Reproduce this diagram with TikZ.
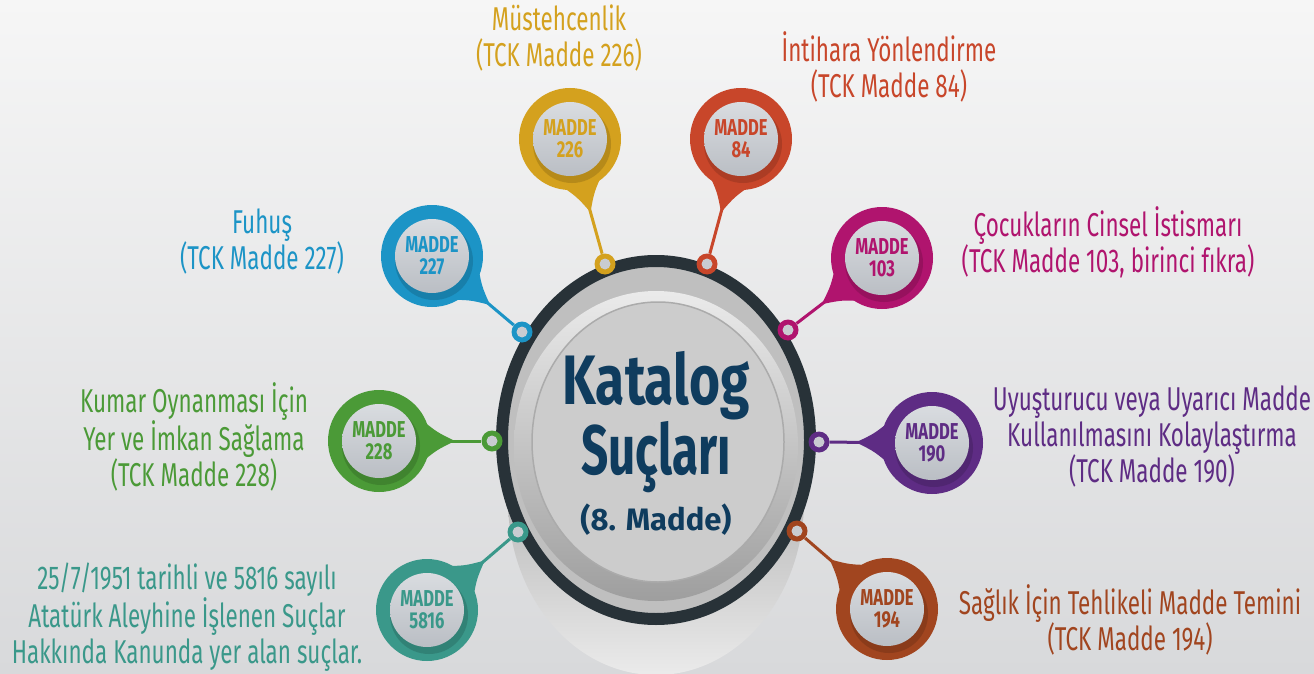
\documentclass[tikz,border=0pt]{standalone}
\usepackage{fontspec}
\usetikzlibrary{calc,shapes.geometric}
\newfontfamily\lab[FakeStretch=0.68]{Fira Sans}
\newfontfamily\labb[FakeStretch=0.72]{Fira Sans}
\newfontfamily\labk[FakeStretch=0.76]{Fira Sans}
\newfontfamily\labs[FakeStretch=0.68]{Fira Sans}
\newfontfamily\plainb{Fira Sans}
\definecolor{cgold}{HTML}{D4A11E}
\definecolor{cred}{HTML}{C8462A}
\definecolor{cblue}{HTML}{1C94C6}
\definecolor{cmag}{HTML}{B0146E}
\definecolor{cgreen}{HTML}{4B9A37}
\definecolor{cpurple}{HTML}{5E2C84}
\definecolor{cteal}{HTML}{3A988A}
\definecolor{cbrown}{HTML}{A1451F}
\definecolor{navy}{HTML}{0F3C5E}
\definecolor{ringdark}{HTML}{283238}
\definecolor{innertop}{HTML}{D9DCE0}
\definecolor{innerbot}{HTML}{BABEC4}
\definecolor{dotcenter}{HTML}{C9CCD1}
\definecolor{bgtop}{HTML}{F6F6F6}
\definecolor{bgbot}{HTML}{D8D9DB}
\tikzset{
  pinouter/.style={circle, minimum size=102pt, inner sep=0pt},
  pininner/.style={circle, minimum size=74pt, inner sep=0pt, top color=innertop, bottom color=innerbot, align=center, font=\labb\bfseries\fontsize{23}{22}\selectfont},
  dotnode/.style={circle, minimum size=21pt, inner sep=0pt},
  conn/.style={line width=3pt},
  lbl/.style={align=center, inner sep=0pt, font=\lab\fontsize{33}{36}\selectfont},
  bigtxt/.style={inner sep=0pt, text=navy},
}
\newcommand\mkpin[5]{%
  \coordinate (#1c) at #2;
  \coordinate (#1d) at #3;
  \fill[#4] ($(#1c)!46pt!32:(#1d)$) .. controls ($(#1c)!58pt!9:(#1d)$) .. ($(#1c)!76pt!(#1d)$) .. controls ($(#1c)!58pt!-9:(#1d)$) .. ($(#1c)!46pt!-32:(#1d)$) -- cycle;
  \node[pinouter, fill=#4] (#1) at (#1c) {};
  \fill[#4!60!black, opacity=.35] ($(#1c)+(2,-5)$) circle (39);
  \node[pininner, text=#4] (#1in) at (#1c) {MADDE\\#5};
  \node[dotnode, fill=#4] (#1dot) at (#1d) {};
  \fill[dotcenter] (#1dot) circle (5.5);
  \draw[conn, #4] (#1) -- (#1dot);
}
\begin{document}
\begin{tikzpicture}[x=1pt,y=1pt]
\useasboundingbox (0,0) rectangle (1314,-674);
\shade[top color=bgtop, bottom color=bgbot] (0,0) rectangle (1314,-674);
% central body
\shade[top color=black!45, bottom color=black!8] (656,-500) ellipse (148 and 175);
\fill[black!25] (656,-440) ellipse (154 and 179);
\node[draw=ringdark, line width=12pt, ellipse, minimum width=308pt, minimum height=358pt, inner sep=0pt] (ring) at (656,-440) {};
\shade[top color=black!8, bottom color=black!38] (656,-446) ellipse (142 and 155);
\node[ellipse, draw=black!33, line width=1.5pt, fill=black!20, minimum width=252pt, minimum height=280pt, inner sep=0pt] (face) at (658,-442) {};
\node[bigtxt, align=center, font=\bfseries\fontsize{70}{59}\selectfont] (t1) at (656,-422) {{\labk\bfseries Katalog}\\{\labs\bfseries Suçları}};
\node[bigtxt, anchor=base, font=\plainb\bfseries\fontsize{31}{31}\selectfont] (t3) at (656,-530) {(8. Madde)};
% pins
\mkpin{pa}{(570,-139)}{(605,-264)}{cgold}{226}
\mkpin{pb}{(741,-139)}{(707,-264)}{cred}{84}
\mkpin{pc}{(432,-256)}{(522,-332)}{cblue}{227}
\mkpin{pd}{(882,-258)}{(788,-330)}{cmag}{103}
\mkpin{pe}{(379,-441)}{(492,-441)}{cgreen}{228}
\mkpin{pf}{(932,-443)}{(819,-442)}{cpurple}{190}
\mkpin{pg}{(427,-610)}{(518,-532)}{cteal}{5816}
\mkpin{ph}{(887,-609)}{(797,-531)}{cbrown}{194}
% labels
\node[lbl, text=cgold] (la) at (559,-38) {Müstehcenlik\\(TCK Madde 226)};
\node[lbl, text=cred] (lb) at (889,-67) {İntihara Yönlendirme\\(TCK Madde 84)};
\node[lbl, text=cblue] (lc) at (262,-242) {Fuhuş\\(TCK Madde 227)};
\node[lbl, text=cmag] (ld) at (1108,-242) {Çocukların Cinsel İstismarı\\(TCK Madde 103, birinci fıkra)};
\node[lbl, text=cgreen] (le) at (194,-437) {Kumar Oynanması İçin\\Yer ve İmkan Sağlama\\(TCK Madde 228)};
\node[lbl, text=cpurple] (lf) at (1152,-437) {Uyuşturucu veya Uyarıcı Madde\\Kullanılmasını Kolaylaştırma\\(TCK Madde 190)};
\node[lbl, text=cteal] (lg) at (187,-617) {25/7/1951 tarihli ve 5816 sayılı\\Atatürk Aleyhine İşlenen Suçlar\\Hakkında Kanunda yer alan suçlar.};
\node[lbl, text=cbrown] (lh) at (1130,-620) {Sağlık İçin Tehlikeli Madde Temini\\(TCK Madde 194)};
\end{tikzpicture}
\end{document}
